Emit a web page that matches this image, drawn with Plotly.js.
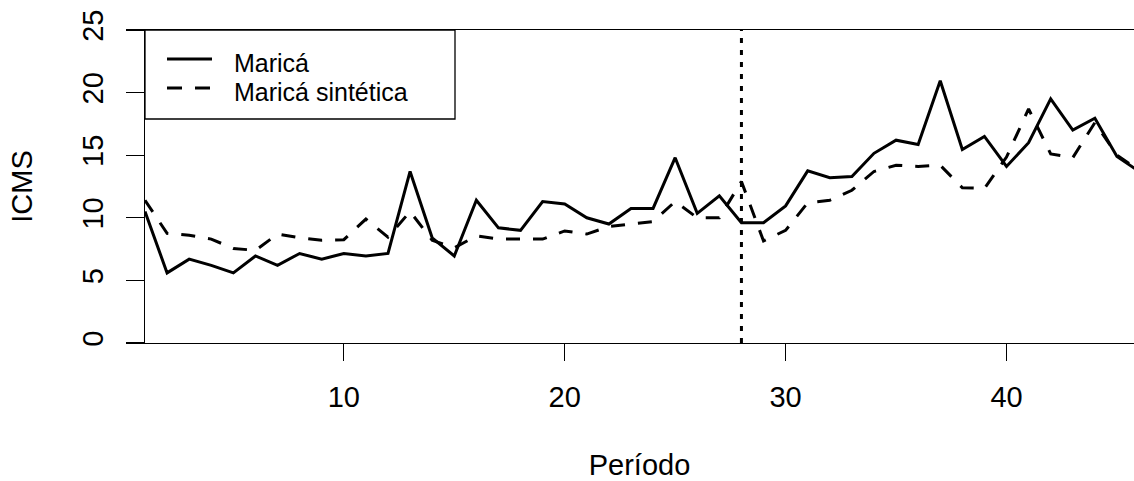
<!DOCTYPE html>
<html><head><meta charset="utf-8">
<script src="https://cdn.plot.ly/plotly-3.0.1.min.js"></script>
<style>html,body{margin:0;padding:0;background:#fff}#chart{width:1134px;height:481px}</style>
</head><body><div id="chart"></div>
<script>
const periods = [1,2,3,4,5,6,7,8,9,10,11,12,13,14,15,16,17,18,19,20,21,22,23,24,25,26,27,28,29,30,31,32,33,34,35,36,37,38,39,40,41,42,43,44,45,46];
const marica = [10.5,5.6,6.7,6.2,5.6,6.95,6.2,7.15,6.7,7.15,6.95,7.15,13.7,8.4,6.95,11.4,9.2,9.0,11.3,11.1,10.0,9.5,10.75,10.75,14.8,10.35,11.75,9.6,9.6,10.95,13.75,13.2,13.3,15.15,16.2,15.85,20.95,15.45,16.5,14.1,16.0,19.5,17.0,17.95,14.9,13.7];
const maricaSintetica = [11.4,8.76,8.6,8.3,7.55,7.4,8.7,8.4,8.2,8.25,9.9,8.45,10.5,8.2,7.6,8.55,8.3,8.3,8.3,8.95,8.7,9.3,9.5,9.7,11.3,10.0,10.0,12.9,8.15,9.0,11.2,11.4,12.2,13.7,14.2,14.1,14.2,12.4,12.35,14.85,18.7,15.1,14.8,17.6,15.0,13.8];
const seriesNames = ['Maricá','Maricá sintética'];
const treatmentPeriod = [28];
const xTicks = [10,20,30,40];
const yTicks = [0,5,10,15,20,25];

const FONT = '"Liberation Sans", Arial, sans-serif';
const traces = [
  {x: periods, y: marica, name: seriesNames[0], type:'scatter', mode:'lines',
   line:{color:'#000', width:3}},
  {x: periods, y: maricaSintetica, name: seriesNames[1], type:'scatter', mode:'lines',
   line:{color:'#000', width:3, dash:'14px,13px'}}
];

// plot area in px: left 145, right 1134, top 30, bottom 343
const W = 989, H = 313;
const px = v => v / W, py = v => v / H;

const shapes = [
  {type:'line', xref:'x', yref:'paper', x0:treatmentPeriod[0], x1:treatmentPeriod[0], y0:0, y1:1,
   line:{color:'#000', width:3, dash:'5px,7px'}},
  // legend box and keys
  {type:'rect', xref:'paper', yref:'paper', x0:0, x1:px(310), y0:1-py(89), y1:1,
   line:{color:'#000', width:1.3}, fillcolor:'#fff', layer:'above'},
  {type:'line', xref:'paper', yref:'paper', x0:px(22), x1:px(67), y0:1-py(29), y1:1-py(29),
   line:{color:'#000', width:3}},
  {type:'line', xref:'paper', yref:'paper', x0:px(22), x1:px(67), y0:1-py(58), y1:1-py(58),
   line:{color:'#000', width:3, dash:'15px,13px'}}
];

const annotations = [
  {xref:'paper', yref:'paper', x:px(87), y:1-py(33), xanchor:'left', yanchor:'middle', showarrow:false,
   text:seriesNames[0], font:{family:FONT, size:25, color:'#000'}},
  {xref:'paper', yref:'paper', x:px(87), y:1-py(62), xanchor:'left', yanchor:'middle', showarrow:false,
   text:seriesNames[1], font:{family:FONT, size:25, color:'#000'}}
];

const layout = {
  width:1134, height:481,
  margin:{l:145, r:0, t:30, b:138, pad:0},
  paper_bgcolor:'#fff', plot_bgcolor:'#fff',
  showlegend:false,
  font:{family:FONT, color:'#000'},
  xaxis:{range:[1, 1 + 989/22.09], tickvals:xTicks, ticktext:xTicks.map(String),
    ticks:'outside', ticklen:17, tickwidth:1.3, tickcolor:'#000',
    showline:true, mirror:true, linecolor:'#000', linewidth:1.3,
    showgrid:false, zeroline:false, tickfont:{size:29, family:FONT, color:'#000'},
    ticklabelstandoff:11,
    title:{text:'Período', font:{size:29, family:FONT, color:'#000'}, standoff:43}, automargin:false},
  yaxis:{range:[0,25], tickvals:yTicks, ticktext:yTicks.map(String), tickangle:-90,
    ticks:'outside', ticklen:18, tickwidth:1.3, tickcolor:'#000',
    showline:true, linecolor:'#000', linewidth:1.3,
    showgrid:false, zeroline:false, tickfont:{size:29, family:FONT, color:'#000'},
    ticklabelstandoff:11,
    title:{text:'ICMS', font:{size:29, family:FONT, color:'#000'}, standoff:36}, automargin:false},
  shapes:shapes, annotations:annotations
};
Plotly.newPlot('chart', traces, layout, {displayModeBar:false, staticPlot:true});
</script></body></html>
